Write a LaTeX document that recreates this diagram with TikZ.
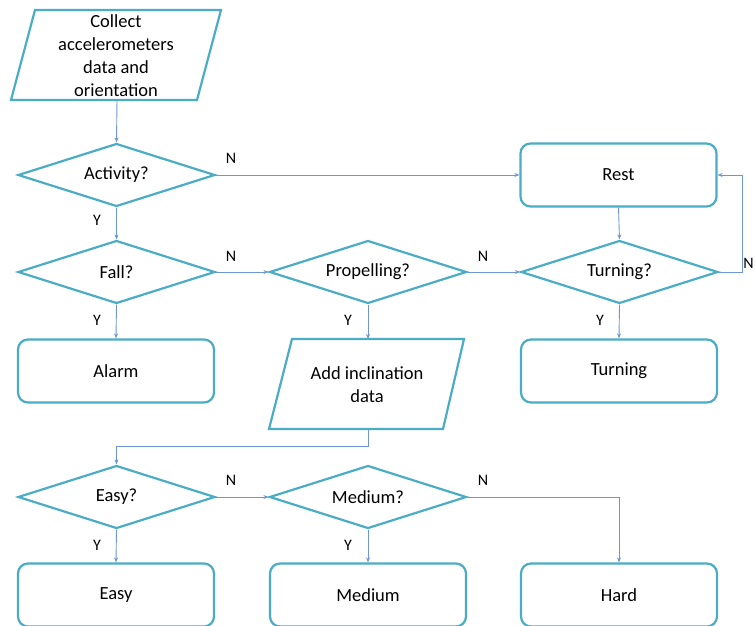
\documentclass[tikz,border=0pt]{standalone}
\usepackage{fontspec}
\setmainfont{Carlito}
\usetikzlibrary{shapes.geometric,arrows.meta}
\definecolor{shp}{HTML}{4BACC6}
\definecolor{con}{HTML}{6E96D2}
\begin{document}
\begin{tikzpicture}[x=1pt,y=-1pt,
 base/.style={draw=shp,line width=2.2pt,fill=white,font=\fontsize{18.5}{23}\selectfont,align=center,inner sep=0pt,text=black},
 dec/.style={base,diamond,minimum width=197pt,minimum height=63pt,aspect=3.1},
 box/.style={base,rectangle,rounded corners=10pt,minimum width=196pt,minimum height=63pt},
 iotext/.style={font=\fontsize{18.5}{23}\selectfont,align=center,inner sep=0pt},
 ioshape/.style={draw=shp,line width=2.2pt,line join=miter},
 conn/.style={draw=con,line width=0.9pt,-{Stealth[length=5pt,width=4pt]}},
 lab/.style={font=\fontsize{16}{16}\selectfont,inner sep=0pt}]
\useasboundingbox (0,0) rectangle (755,626);

% input shapes
\draw[ioshape,shift={(116,55)}] (-81,-45) -- (105,-45) -- (81,45) -- (-105,45) -- cycle;
\node[iotext] (collect) at (116,56) {Collect\\accelerometers\\data and\\orientation};
\coordinate (collectb) at (117,100);

\draw[ioshape,shift={(367,384)}] (-75,-45) -- (97,-45) -- (76,45) -- (-98,45) -- cycle;
\node[iotext] (incl) at (367,385) {Add inclination\\data};
\coordinate (inclt) at (368,339);
\coordinate (inclb) at (368,429);

% decisions
\node[dec] (activity) at (116.5,175) {Activity?};
\node[dec] (fall) at (116.5,272) {Fall?};
\node[dec] (prop) at (368,272) {Propelling?};
\node[dec] (turnq) at (619.5,272) {Turning?};
\node[dec] (easyq) at (116.5,497) {Easy?};
\node[dec] (medq) at (368,497) {Medium?};

% boxes
\node[box] (rest) at (618.5,175) {Rest};
\node[box] (alarm) at (116,371) {Alarm};
\node[box] (turnbox) at (619,371) {Turning};
\node[box] (easybox) at (116,595) {Easy};
\node[box] (medbox) at (368,595) {Medium};
\node[box] (hard) at (619,595) {Hard};

% connectors
\draw[conn] (collectb) -- (activity.north);
\draw[conn] (activity.east) -- (rest.west);
\draw[conn] (activity.south) -- (fall.north);
\draw[conn] (fall.east) -- (prop.west);
\draw[conn] (fall.south) -- (alarm.north);
\draw[conn] (prop.east) -- (turnq.west);
\draw[conn] (prop.south) -- (inclt);
\draw[conn] (rest.south) -- (turnq.north);
\draw[conn] (turnq.east) -- ++(23,0) |- (rest.east);
\draw[conn] (turnq.south) -- (turnbox.north);
\draw[conn] (inclb) -- ++(0,17) -| (easyq.north);
\draw[conn] (easyq.east) -- (medq.west);
\draw[conn] (easyq.south) -- (easybox.north);
\draw[conn] (medq.south) -- (medbox.north);
\draw[conn] (medq.east) -| (hard.north);

% labels
\node[lab] (n1) at (231,158) {N};
\node[lab] (n2) at (231,256) {N};
\node[lab] (n3) at (483,256) {N};
\node[lab] (n4) at (748.5,263) {N};
\node[lab] (n5) at (231,480) {N};
\node[lab] (n6) at (483,480) {N};
\node[lab] (y1) at (97,220) {Y};
\node[lab] (y2) at (97,320) {Y};
\node[lab] (y3) at (348,320) {Y};
\node[lab] (y4) at (600,320) {Y};
\node[lab] (y5) at (97,545) {Y};
\node[lab] (y6) at (348,545) {Y};
\end{tikzpicture}
\end{document}
